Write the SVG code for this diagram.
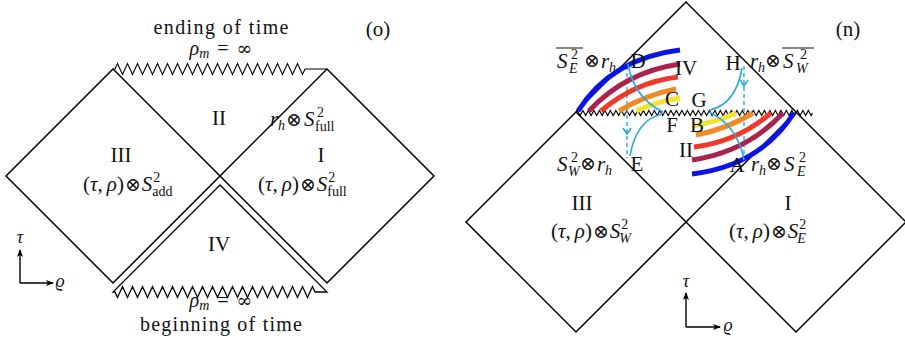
<svg xmlns="http://www.w3.org/2000/svg" width="905" height="340" viewBox="0 0 905 340">
<style>
.t{font-family:"Liberation Serif","DejaVu Serif",serif;font-size:21px;fill:#111}
.i{font-style:italic}
.s{font-size:14px}
.o{font-family:"DejaVu Serif",serif;font-size:19px;font-style:normal}
.inf{font-family:"DejaVu Serif",serif;font-size:19px}
.ln{fill:none;stroke:#000;stroke-width:1.5;stroke-linejoin:miter}
.zz{fill:none;stroke:#000;stroke-width:1.1}
.cy{fill:none;stroke:#2aa9e0;stroke-width:1.6}
.cyd{fill:none;stroke:#2aa9e0;stroke-width:1.4;stroke-dasharray:4,3}
.arc{fill:none;stroke-width:5;stroke-linecap:butt}
.ax{fill:none;stroke:#000;stroke-width:1.4}
</style>
<defs>
<marker id="ah" markerWidth="9" markerHeight="8" refX="7" refY="4" orient="auto" markerUnits="userSpaceOnUse"><path d="M0,1 L8,4 L0,7 L2,4 Z" fill="#000"/></marker>
</defs>

<!-- ===== Panel (o) ===== -->
<g id="panel-o">
  <g id="o-region-III">
    <path class="ln" d="M113,69 L6,176 L113,283 L220,176 Z"/>
    <text class="t" x="121" y="162" text-anchor="middle">III</text>
    <text class="t" x="83" y="191">(<tspan class="i">τ</tspan>,<tspan class="i" dx="4">ρ</tspan>)<tspan class="o" dx="1">⊗</tspan><tspan class="i" dx="1">S</tspan><tspan class="s" dx="1" dy="-9">2</tspan><tspan class="s" dx="-8" dy="14">add</tspan></text>
  </g>
  <g id="o-region-I">
    <path class="ln" d="M327,69 L434,176 L327,283 L220,176 Z"/>
    <text class="t" x="321" y="162" text-anchor="middle">I</text>
    <text class="t" x="258" y="191">(<tspan class="i">τ</tspan>,<tspan class="i" dx="4">ρ</tspan>)<tspan class="o" dx="1">⊗</tspan><tspan class="i" dx="1">S</tspan><tspan class="s" dx="1" dy="-9">2</tspan><tspan class="s" dx="-8" dy="14">full</tspan></text>
  </g>
  <g id="o-region-II">
    <path class="zz" d="M113,69 L115,69 l2.5,-5.5 5,11 5,-11 5,11 5,-11 5,11 5,-11 5,11 5,-11 5,11 5,-11 5,11 5,-11 5,11 5,-11 5,11 5,-11 5,11 5,-11 5,11 5,-11 5,11 5,-11 5,11 5,-11 5,11 5,-11 5,11 5,-11 5,11 5,-11 5,11 5,-11 5,11 5,-11 5,11 5,-11 5,11 2.5,-5.5 L327,69"/>
    <text class="t" x="219" y="125" text-anchor="middle">II</text>
    <text class="t"><tspan class="i" x="270" y="126">r</tspan><tspan class="s i" x="278" y="130">h</tspan><tspan class="o" x="286" y="126">⊗</tspan><tspan class="i" x="304" y="126">S</tspan><tspan class="s" x="317" y="117">2</tspan><tspan class="s" x="315" y="131">full</tspan></text>
    <text class="t" x="221" y="34" text-anchor="middle" textLength="135" lengthAdjust="spacing" style="font-size:20px">ending of time</text>
    <text class="t" x="221" y="55" text-anchor="middle" style="font-size:20px"><tspan class="i">ρ</tspan><tspan class="s i" dy="3">m</tspan><tspan dy="-3" dx="8">=</tspan><tspan class="inf" dx="8">∞</tspan></text>
  </g>
  <g id="o-region-IV">
    <path class="ln" d="M220,185 L113,292 L115,292 l2.5,5.5 5,-11 5,11 5,-11 5,11 5,-11 5,11 5,-11 5,11 5,-11 5,11 5,-11 5,11 5,-11 5,11 5,-11 5,11 5,-11 5,11 5,-11 5,11 5,-11 5,11 5,-11 5,11 5,-11 5,11 5,-11 5,11 5,-11 5,11 5,-11 5,11 5,-11 5,11 5,-11 5,11 5,-11 5,11 5,-11 2.5,5.5 L327,292 Z" style="stroke-width:1.3"/>
    <text class="t" x="219" y="251" text-anchor="middle">IV</text>
    <text class="t" x="221" y="307" text-anchor="middle" style="font-size:20px"><tspan class="i">ρ</tspan><tspan class="s i" dy="3">m</tspan><tspan dy="-3" dx="8">=</tspan><tspan class="inf" dx="8">∞</tspan></text>
    <text class="t" x="221" y="331" text-anchor="middle" textLength="162" lengthAdjust="spacing" style="font-size:20px">beginning of time</text>
  </g>
  <g id="o-axes">
    <path class="ax" d="M20,283 L20,250" marker-end="url(#ah)"/>
    <path class="ax" d="M20,283 L53,283" marker-end="url(#ah)"/>
    <text class="t i" x="20" y="243" text-anchor="middle" style="font-size:18px">τ</text>
    <text class="t i" x="60" y="287" text-anchor="middle" style="font-size:18px">ϱ</text>
  </g>
  <text class="t" x="378" y="36" text-anchor="middle">(o)</text>
</g>

<!-- ===== Panel (n) ===== -->
<g id="panel-n">
  <g id="n-region-III">
    <path class="ln" d="M576,112 L466,222 L576,332 L686,222 Z"/>
    <text class="t" x="582" y="210" text-anchor="middle">III</text>
    <text class="t" x="551" y="238">(<tspan class="i">τ</tspan>,<tspan class="i" dx="4">ρ</tspan>)<tspan class="o" dx="1">⊗</tspan><tspan class="i" dx="1">S</tspan><tspan class="s" dx="1" dy="-9">2</tspan><tspan class="s i" dx="-9" dy="14">W</tspan></text>
  </g>
  <g id="n-region-I">
    <path class="ln" d="M796,112 L906,222 L796,332 L686,222 Z"/>
    <text class="t" x="788" y="210" text-anchor="middle">I</text>
    <text class="t" x="729" y="238">(<tspan class="i">τ</tspan>,<tspan class="i" dx="4">ρ</tspan>)<tspan class="o" dx="1">⊗</tspan><tspan class="i" dx="1">S</tspan><tspan class="s" dx="1" dy="-9">2</tspan><tspan class="s i" dx="-9" dy="14">E</tspan></text>
  </g>
  <g id="n-region-IV">
    <path class="ln" d="M576,112 L686,2 L796,112"/>
    <path class="zz" d="M576,113 l1.375,-2.5 2.75,5 2.75,-5 2.75,5 2.75,-5 2.75,5 2.75,-5 2.75,5 2.75,-5 2.75,5 2.75,-5 2.75,5 2.75,-5 2.75,5 2.75,-5 2.75,5 2.75,-5 2.75,5 2.75,-5 2.75,5 2.75,-5 2.75,5 2.75,-5 2.75,5 2.75,-5 2.75,5 2.75,-5 2.75,5 2.75,-5 2.75,5 2.75,-5 2.75,5 2.75,-5 2.75,5 2.75,-5 2.75,5 2.75,-5 2.75,5 2.75,-5 2.75,5 2.75,-5 2.75,5 2.75,-5 2.75,5 2.75,-5 2.75,5 2.75,-5 2.75,5 2.75,-5 2.75,5 2.75,-5 2.75,5 2.75,-5 2.75,5 2.75,-5 2.75,5 2.75,-5 2.75,5 2.75,-5 2.75,5 2.75,-5 2.75,5 2.75,-5 2.75,5 2.75,-5 2.75,5 2.75,-5 2.75,5 2.75,-5 2.75,5 2.75,-5 2.75,5 2.75,-5 2.75,5 2.75,-5 2.75,5 2.75,-5 2.75,5 2.75,-5 2.75,5 2.75,-5 2.75,5 2.75,-5 2.75,5 2.75,-5 2.75,5 1.375,-2.5"/>
  </g>
  <g id="connectors">
    <line class="cyd" x1="627" y1="66" x2="627" y2="158"/>
    <path class="cy" d="M623,128 L627,134 L631,128"/>
    <line class="cyd" x1="744" y1="66" x2="744" y2="160"/>
    <path class="cy" d="M740,80 L744,86 L748,80"/>
    <g id="arcs-upper">
      <path class="arc" stroke="#0a14e6" d="M578,111 Q612,58 680,50"/>
      <path class="arc" stroke="#a9234f" d="M589,111 Q625,72 680,64"/>
      <path class="arc" stroke="#ee3a2a" d="M601,111 Q635,82 678,77"/>
      <path class="arc" stroke="#f08a24" d="M619,111 Q645,95 676,89"/>
      <path class="arc" stroke="#f3e434" d="M636,111 Q655,102 680,98"/>
    </g>
    <g id="arcs-lower" transform="rotate(180,686,112)">
      <path class="arc" stroke="#0a14e6" d="M578,111 Q612,58 680,50"/>
      <path class="arc" stroke="#a9234f" d="M589,111 Q625,72 680,64"/>
      <path class="arc" stroke="#ee3a2a" d="M601,111 Q635,82 678,77"/>
      <path class="arc" stroke="#f08a24" d="M619,111 Q645,95 676,89"/>
      <path class="arc" stroke="#f3e434" d="M636,111 Q655,102 680,98"/>
    </g>
    <path class="cy" d="M628,64 Q634,98 663,112"/>
    <path class="cy" d="M662,114 Q636,120 630,156"/>
    <path class="cy" d="M744,160 Q738,126 709,112"/>
    <path class="cy" d="M710,110 Q736,104 742,68"/>
  </g>
  <g id="n-labels">
    <text class="t" x="686" y="75" text-anchor="middle">IV</text>
    <text class="t" x="686" y="157" text-anchor="middle">II</text>
    <text class="t" x="638" y="68" text-anchor="middle">D</text>
    <text class="t" x="672" y="106" text-anchor="middle">C</text>
    <text class="t" x="699" y="107" text-anchor="middle">G</text>
    <text class="t" x="733" y="70" text-anchor="middle">H</text>
    <text class="t" x="672" y="132" text-anchor="middle">F</text>
    <text class="t" x="697" y="132" text-anchor="middle">B</text>
    <text class="t" x="637" y="171" text-anchor="middle">E</text>
    <text class="t" x="737" y="172" text-anchor="middle">A</text>
    <text class="t"><tspan class="i" x="557" y="68">S</tspan><tspan class="s" x="571" y="59">2</tspan><tspan class="s i" x="569" y="73">E</tspan><tspan class="o" x="584" y="67">⊗</tspan><tspan class="i" x="601" y="68">r</tspan><tspan class="s i" x="609" y="72">h</tspan></text>
    <line x1="556" y1="48" x2="583" y2="48" stroke="#111" stroke-width="1"/>
    <text class="t"><tspan class="i" x="750" y="68">r</tspan><tspan class="s i" x="758" y="72">h</tspan><tspan class="o" x="765" y="67">⊗</tspan><tspan class="i" x="783" y="68">S</tspan><tspan class="s" x="800" y="59">2</tspan><tspan class="s i" x="796" y="73">W</tspan></text>
    <line x1="782" y1="48" x2="814" y2="48" stroke="#111" stroke-width="1"/>
    <text class="t"><tspan class="i" x="557" y="171">S</tspan><tspan class="s" x="571" y="162">2</tspan><tspan class="s i" x="568" y="176">W</tspan><tspan class="o" x="580" y="170">⊗</tspan><tspan class="i" x="597" y="171">r</tspan><tspan class="s i" x="605" y="175">h</tspan></text>
    <text class="t"><tspan class="i" x="751" y="171">r</tspan><tspan class="s i" x="759" y="175">h</tspan><tspan class="o" x="766" y="170">⊗</tspan><tspan class="i" x="784" y="171">S</tspan><tspan class="s" x="799" y="162">2</tspan><tspan class="s i" x="797" y="176">E</tspan></text>
    <text class="t" x="848" y="36" text-anchor="middle">(n)</text>
  </g>
  <g id="n-axes">
    <path class="ax" d="M686,327 L686,293" marker-end="url(#ah)"/>
    <path class="ax" d="M686,327 L720,327" marker-end="url(#ah)"/>
    <text class="t i" x="686" y="287" text-anchor="middle" style="font-size:18px">τ</text>
    <text class="t i" x="728" y="331" text-anchor="middle" style="font-size:18px">ϱ</text>
  </g>
</g>
</svg>
